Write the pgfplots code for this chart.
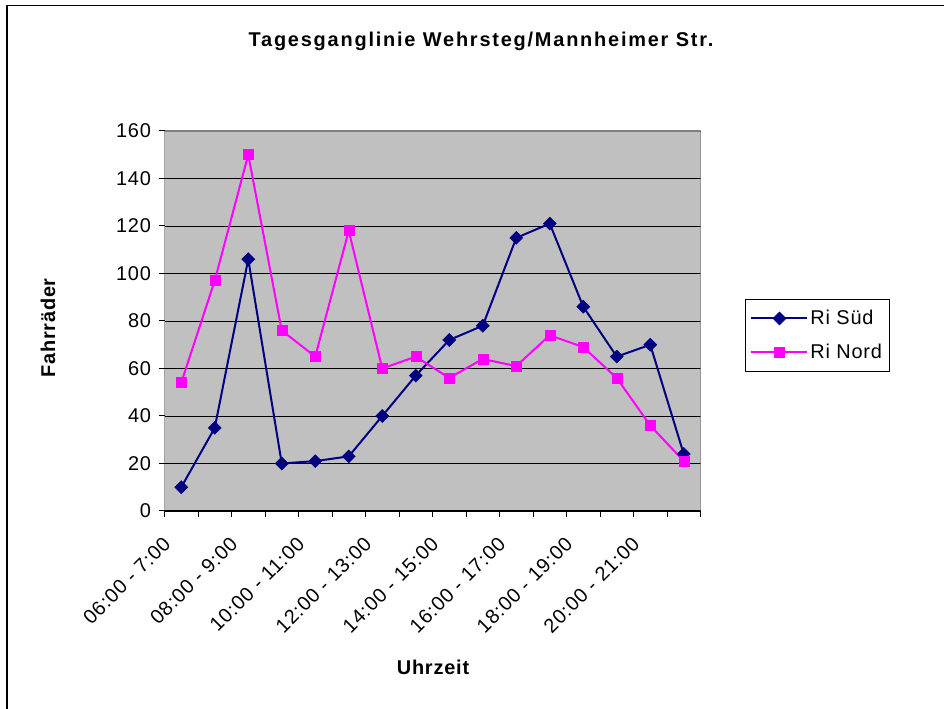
\documentclass[border=0pt]{standalone}
\usepackage{fontspec}
\setmainfont{Liberation Sans}[LetterSpace=4]
\newfontfamily\titlefont[LetterSpace=9]{Liberation Sans}
\usepackage{pgfplots}
\pgfplotsset{compat=1.18}
\definecolor{plotgray}{HTML}{C0C0C0}
\definecolor{bordergray}{HTML}{808080}
\definecolor{sued}{HTML}{000080}
\definecolor{nord}{HTML}{FF00FF}
\begin{document}
\begin{tikzpicture}[x=1bp,y=1bp]
\path[use as bounding box] (0,0) rectangle (944,709);
\fill[white] (0,0) rectangle (944,709);
\draw[line width=1.5bp] (7,-20) -- (7,703.5) -- (970,703.5);
\begin{axis}[
  at={(164.5bp,198bp)}, anchor=south west, scale only axis,
  width=536bp, height=380bp,
  xmin=-0.5, xmax=15.5, ymin=0, ymax=160,
  axis background/.style={fill=plotgray},
  axis line style={draw=none},
  xtick={-0.5,0.5,...,15.5}, xticklabels={},
  extra x ticks={0,2,...,14},
  extra x tick labels={06:00 - 7:00,08:00 - 9:00,10:00 - 11:00,12:00 - 13:00,14:00 - 15:00,16:00 - 17:00,18:00 - 19:00,20:00 - 21:00},
  extra x tick style={major tick length=0pt, grid=none},
  ytick={0,20,...,160},
  ymajorgrids, grid style={black, line width=0.8bp},
  tick align=outside, tick pos=left, major tick length=6bp,
  tick style={black, line width=1bp},
  /pgf/number format/assume math mode=true,
  tick label style={font=\fontsize{20}{24}\selectfont},
  yticklabel style={xshift=-4bp},
  xticklabel style={xshift=-12bp, yshift=-27bp, rotate=45, anchor=east},
  legend style={at={(1.083,0.558)}, anchor=north west, draw=black, line width=1bp, fill=white,
    font=\fontsize{20}{24}\selectfont, inner xsep=5bp, inner ysep=9bp, row sep=14bp,
    nodes={inner sep=2bp}},
  legend cell align=left,
  legend image code/.code={
    \draw[mark repeat=2,mark phase=2,#1] plot coordinates {(0bp,0bp) (28bp,0bp) (56bp,0bp)};
  },
]
\addplot[sued, line width=2bp, mark=square*, mark size=4.6bp,
  mark options={rotate=45, fill=sued, draw=sued, line width=0.5bp}] coordinates {
(0,10) (1,35) (2,106) (3,20) (4,21) (5,23) (6,40) (7,57) (8,72) (9,78) (10,115) (11,121) (12,86) (13,65) (14,70) (15,24)};
\addlegendentry{Ri Süd}
\addplot[nord, line width=2bp, mark=square*, mark size=5bp,
  mark options={fill=nord, draw=nord, line width=0.5bp}] coordinates {
(0,54) (1,97) (2,150) (3,76) (4,65) (5,118) (6,60) (7,65) (8,56) (9,64) (10,61) (11,74) (12,69) (13,56) (14,36) (15,21)};
\addlegendentry{Ri Nord}
\draw[bordergray, line width=1.5bp] (rel axis cs:0,1) -- (rel axis cs:1,1) -- (rel axis cs:1,0);
\draw[black, line width=1bp] (rel axis cs:0,1) -- (rel axis cs:0,0) -- (rel axis cs:1,0);
\end{axis}
\node[font=\titlefont\bfseries\fontsize{20}{24}\selectfont, anchor=base] at (481,662) {Tagesganglinie Wehrsteg/Mannheimer Str.};
\node[font=\bfseries\fontsize{20}{24}\selectfont, rotate=90, anchor=base] at (55,381) {Fahrräder};
\node[font=\bfseries\fontsize{20}{24}\selectfont, anchor=base] at (433,34) {Uhrzeit};
\end{tikzpicture}
\end{document}
